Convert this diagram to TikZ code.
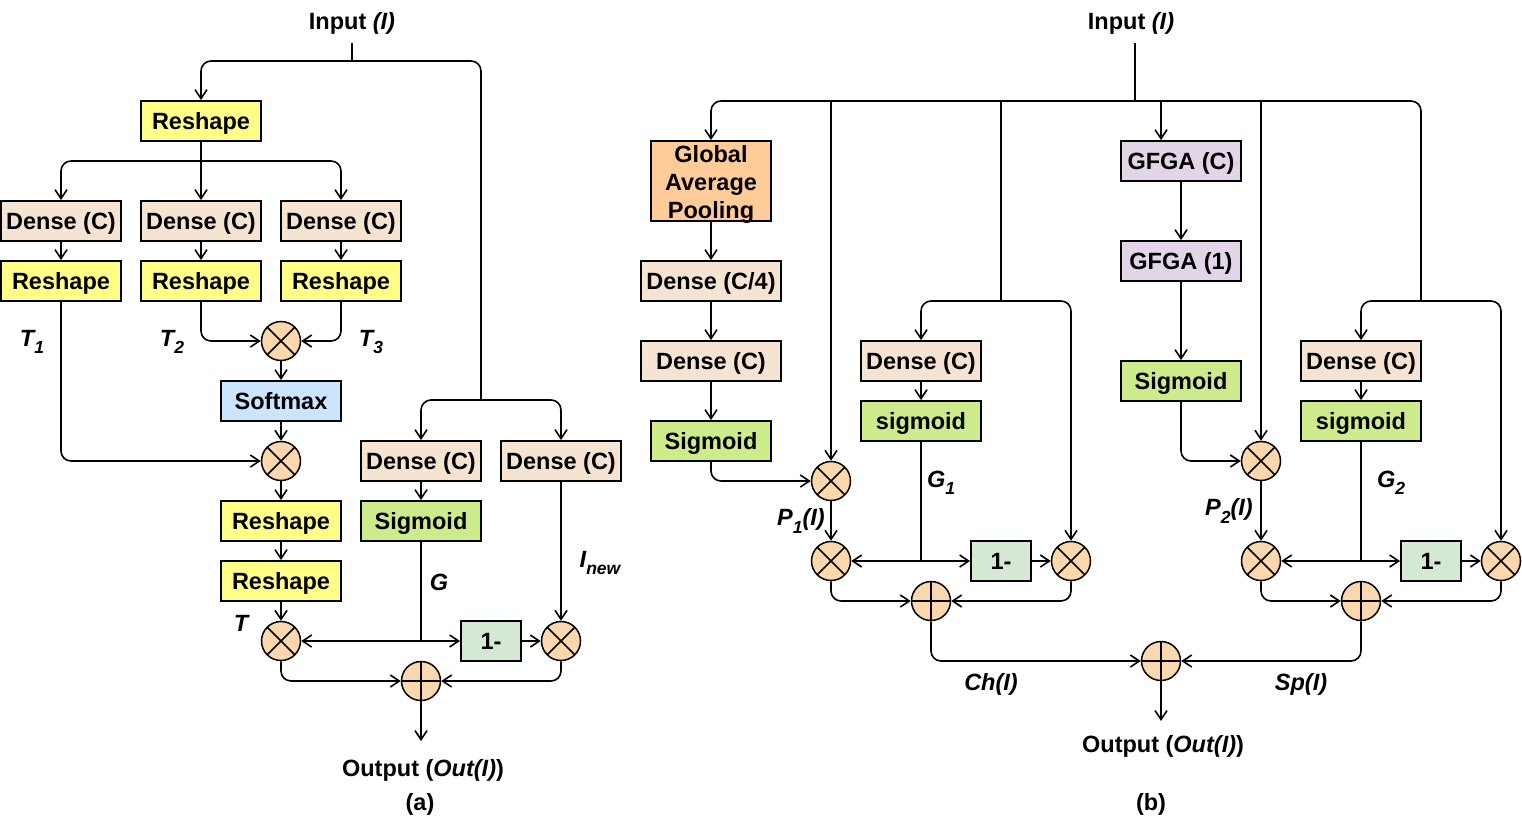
\documentclass[tikz,border=0pt]{standalone}
\usepackage{fontspec}
\setmainfont{Liberation Sans}
\usetikzlibrary{arrows.meta}
\definecolor{reshapec}{HTML}{FFFF88}
\definecolor{densec}{HTML}{F6E4D2}
\definecolor{softc}{HTML}{CCE5FF}
\definecolor{sigc}{HTML}{CDEB8B}
\definecolor{onec}{HTML}{D5E8D4}
\definecolor{gapc}{HTML}{FFCC99}
\definecolor{gfgac}{HTML}{E1D5E7}
\definecolor{opc}{HTML}{FAD7AC}
\newcommand{\lblfont}{\fontsize{23.5}{28}\selectfont\bfseries}
\newcommand{\sbs}[1]{\raisebox{-0.32em}{\fontsize{17.5}{17.5}\selectfont #1}}
\begin{document}
\begin{tikzpicture}[x=1pt,y=-1pt,
  boxbase/.style={draw, line width=1.8pt, minimum width=120pt, minimum height=40pt, inner sep=0pt, font=\lblfont},
  box/.style={boxbase, text height=16.8pt, text depth=0pt},
  reshapebox/.style={box, fill=reshapec},
  densebox/.style={box, fill=densec},
  softbox/.style={box, fill=softc},
  sigbox/.style={box, fill=sigc},
  onebox/.style={box, fill=onec, minimum width=60pt},
  gapbox/.style={boxbase, fill=gapc, minimum height=80pt},
  gfgabox/.style={box, fill=gfgac},
  opnode/.style={circle, draw, line width=1.5pt, fill=opc, minimum size=39pt, inner sep=0pt},
  mulnode/.style={opnode, path picture={\draw[line width=1.5pt] (path picture bounding box.north west) -- (path picture bounding box.south east) (path picture bounding box.north east) -- (path picture bounding box.south west);}},
  addnode/.style={opnode, path picture={\draw[line width=1.5pt] (path picture bounding box.north) -- (path picture bounding box.south) (path picture bounding box.west) -- (path picture bounding box.east);}},
  lbl/.style={font=\lblfont, inner sep=0pt},
  line/.style={line width=1.6pt, rounded corners=10pt},
  conn/.style={line, -{Straight Barb[length=9pt,width=12pt]}}
]
\fill[white] (0,0) rectangle (1522,822);
\useasboundingbox (0,0) rectangle (1522,822);

% ================= (a) =================
\node[lbl] (inA) at (352,23) {Input \textit{(I)}};
\coordinate (sA) at (352,43);
\coordinate (jA) at (352,61);
\coordinate (jA2) at (481,400);
\node[reshapebox] (reA) at (201,121) {Reshape};
\coordinate (jB) at (201,161);
\node[densebox] (dA1) at (61,221) {Dense (C)};
\node[densebox] (dA2) at (201,221) {Dense (C)};
\node[densebox] (dA3) at (341,221) {Dense (C)};
\node[reshapebox] (rA1) at (61,281) {Reshape};
\node[reshapebox] (rA2) at (201,281) {Reshape};
\node[reshapebox] (rA3) at (341,281) {Reshape};
\node[mulnode] (mA1) at (281,341) {};
\node[softbox] (smA) at (281,401) {Softmax};
\node[mulnode] (mA2) at (281,461) {};
\node[reshapebox] (rA4) at (281,521) {Reshape};
\node[reshapebox] (rA5) at (281,581) {Reshape};
\node[mulnode] (mA3) at (281,641) {};
\node[densebox] (dA4) at (421,461) {Dense (C)};
\node[densebox] (dA5) at (561,461) {Dense (C)};
\node[sigbox] (sgA) at (421,521) {Sigmoid};
\coordinate (jG) at (421,641);
\node[onebox] (omA) at (491,641) {1-};
\node[mulnode] (mA4) at (561,641) {};
\node[addnode] (pA) at (421,681) {};
\coordinate (eA) at (421,741);
\node[lbl] (outA) at (423,770) {Output (\textit{Out(I)})};
\node[lbl] (capA) at (420,804) {(a)};
\node[lbl] (t1) at (32,342) {\textit{T\sbs{1}}};
\node[lbl] (t2) at (172,342) {\textit{T\sbs{2}}};
\node[lbl] (t3) at (371,342) {\textit{T\sbs{3}}};
\node[lbl] (tT) at (242,623) {\textit{T}};
\node[lbl] (gA) at (439,582) {\textit{G}};
\node[lbl] (inew) at (600,563) {\textit{I\sbs{new}}};

\draw[line] (sA) -- (jA);
\draw[conn] (jA) -| (reA.north);
\draw[line] (jA) -| (jA2);
\draw[conn] (jA2) -| (dA4.north);
\draw[conn] (jA2) -| (dA5.north);
\draw[conn] (reA.south) -- (dA2.north);
\draw[conn] (jB) -| (dA1.north);
\draw[conn] (jB) -| (dA3.north);
\draw[conn] (dA1.south) -- (rA1.north);
\draw[conn] (dA2.south) -- (rA2.north);
\draw[conn] (dA3.south) -- (rA3.north);
\draw[conn] (rA1.south) |- (mA2.west);
\draw[conn] (rA2.south) |- (mA1.west);
\draw[conn] (rA3.south) |- (mA1.east);
\draw[conn] (mA1.south) -- (smA.north);
\draw[conn] (smA.south) -- (mA2.north);
\draw[conn] (mA2.south) -- (rA4.north);
\draw[conn] (rA4.south) -- (rA5.north);
\draw[conn] (rA5.south) -- (mA3.north);
\draw[conn] (dA4.south) -- (sgA.north);
\draw[line] (sgA.south) -- (jG);
\draw[conn] (jG) -- (mA3.east);
\draw[conn] (jG) -- (omA.west);
\draw[conn] (omA.east) -- (mA4.west);
\draw[conn] (dA5.south) -- (mA4.north);
\draw[conn] (mA3.south) |- (pA.west);
\draw[conn] (mA4.south) |- (pA.east);
\draw[conn] (pA.south) -- (eA);

% ================= (b) =================
\node[lbl] (inB) at (1131,23) {Input \textit{(I)}};
\coordinate (sB) at (1135,43);
\coordinate (jC) at (1135,101);
\coordinate (c1) at (831,101);
\coordinate (c2) at (1001,101);
\coordinate (c3) at (1161,101);
\coordinate (c4) at (1261,101);
\coordinate (jL) at (1001,301);
\coordinate (jR) at (1421,301);
\node[gapbox, label={[lbl, align=center, yshift=-3pt]center:{Global\\Average\\Pooling}}] (gap) at (711,181) {};
\node[densebox, minimum width=140pt] (dq) at (711,281) {Dense (C/4)};
\node[densebox, minimum width=140pt] (dB1) at (711,361) {Dense (C)};
\node[sigbox] (sgB1) at (711,441) {Sigmoid};
\node[mulnode] (mB1) at (831,481) {};
\node[mulnode] (mB2) at (831,561) {};
\node[densebox] (dB2) at (921,361) {Dense (C)};
\node[sigbox] (sgB2) at (921,421) {sigmoid};
\coordinate (jG1) at (921,561);
\node[onebox] (om1) at (1001,561) {1-};
\node[mulnode] (mB3) at (1071,561) {};
\node[addnode] (pB1) at (931,601) {};
\node[gfgabox] (gf1) at (1181,161) {GFGA (C)};
\node[gfgabox] (gf2) at (1181,261) {GFGA (1)};
\node[sigbox] (sgB3) at (1181,381) {Sigmoid};
\node[mulnode] (mB4) at (1261,461) {};
\node[mulnode] (mB5) at (1261,561) {};
\node[densebox] (dB3) at (1361,361) {Dense (C)};
\node[sigbox] (sgB4) at (1361,421) {sigmoid};
\coordinate (jG2) at (1361,561);
\node[onebox] (om2) at (1431,561) {1-};
\node[mulnode] (mB6) at (1501,561) {};
\node[addnode] (pB2) at (1361,601) {};
\node[addnode] (pF) at (1161,661) {};
\coordinate (eB) at (1161,721);
\node[lbl] (outB) at (1163,746) {Output (\textit{Out(I)})};
\node[lbl] (capB) at (1151,804) {(b)};
\node[lbl] (g1) at (941,483) {\textit{G\sbs{1}}};
\node[lbl] (g2) at (1391,483) {\textit{G\sbs{2}}};
\node[lbl] (p1) at (801,521) {\textit{P\sbs{1}(I)}};
\node[lbl] (p2) at (1229,511) {\textit{P\sbs{2}(I)}};
\node[lbl] (ch) at (991,684) {\textit{Ch(I)}};
\node[lbl] (sp) at (1301,684) {\textit{Sp(I)}};

\draw[line] (sB) -- (jC);
\draw[conn] (jC) -| (gap.north);
\draw[line] (jC) -| (jR);
\draw[conn] (c1) -- (mB1.north);
\draw[line] (c2) -- (jL);
\draw[conn] (jL) -| (dB2.north);
\draw[conn] (jL) -| (mB3.north);
\draw[conn] (c3) -- (c3 |- gf1.north);
\draw[conn] (c4) -- (mB4.north);
\draw[conn] (jR) -| (dB3.north);
\draw[conn] (jR) -| (mB6.north);
\draw[conn] (gap.south) -- (dq.north);
\draw[conn] (dq.south) -- (dB1.north);
\draw[conn] (dB1.south) -- (sgB1.north);
\draw[conn] (sgB1.south) |- (mB1.west);
\draw[conn] (mB1.south) -- (mB2.north);
\draw[conn] (dB2.south) -- (sgB2.north);
\draw[line] (sgB2.south) -- (jG1);
\draw[conn] (jG1) -- (mB2.east);
\draw[conn] (jG1) -- (om1.west);
\draw[conn] (om1.east) -- (mB3.west);
\draw[conn] (mB2.south) |- (pB1.west);
\draw[conn] (mB3.south) |- (pB1.east);
\draw[conn] (pB1.south) |- (pF.west);
\draw[conn] (gf1.south) -- (gf2.north);
\draw[conn] (gf2.south) -- (sgB3.north);
\draw[conn] (sgB3.south) |- (mB4.west);
\draw[conn] (mB4.south) -- (mB5.north);
\draw[conn] (dB3.south) -- (sgB4.north);
\draw[line] (sgB4.south) -- (jG2);
\draw[conn] (jG2) -- (mB5.east);
\draw[conn] (jG2) -- (om2.west);
\draw[conn] (om2.east) -- (mB6.west);
\draw[conn] (mB5.south) |- (pB2.west);
\draw[conn] (mB6.south) |- (pB2.east);
\draw[conn] (pB2.south) |- (pF.east);
\draw[conn] (pF.south) -- (eB);
\end{tikzpicture}
\end{document}
